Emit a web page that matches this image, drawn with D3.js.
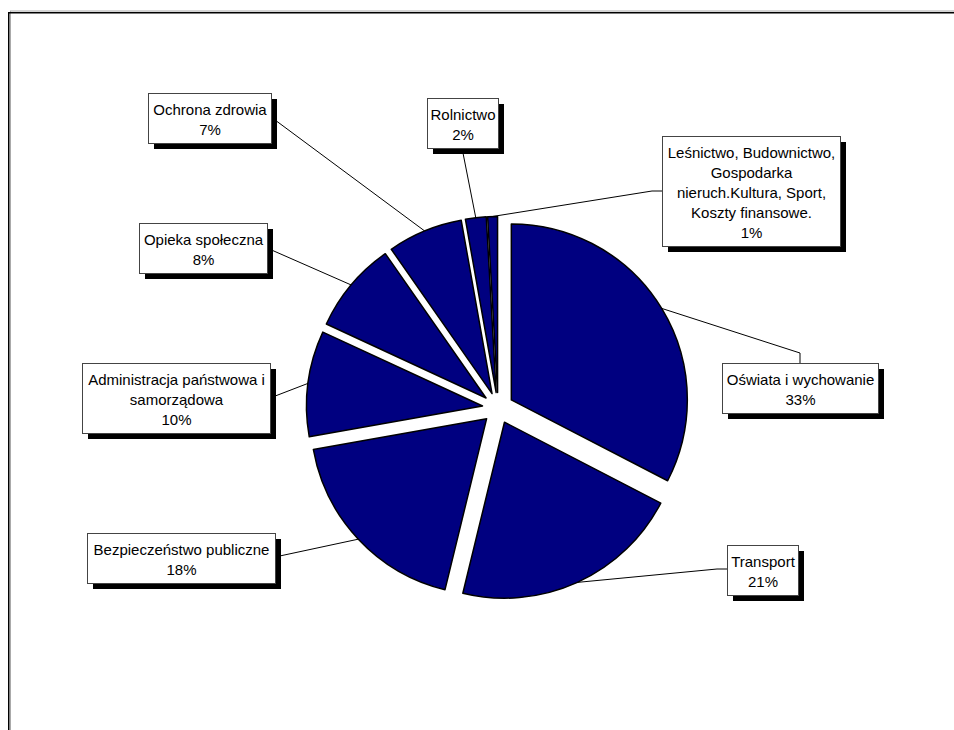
<!DOCTYPE html>
<html>
<head>
<meta charset="utf-8">
<script src="https://cdn.jsdelivr.net/npm/d3@7"></script>
<style>
  body { margin: 0; background: #fff; }
  svg { display: block; }
</style>
</head>
<body>
<script>
// structure of spending, percent of total
let categories = ["Oświata i wychowanie", "Transport", "Bezpieczeństwo publiczne",
    "Administracja państwowa i samorządowa", "Opieka społeczna", "Ochrona zdrowia",
    "Rolnictwo", "Leśnictwo, Budownictwo, Gospodarka nieruch.Kultura, Sport, Koszty finansowe."];
let values = [32.6, 21.2, 18.4, 9.7, 8.4, 6.9, 1.9, 0.9];
// how each label is broken into lines in its box
let labelLines = [
    ["Oświata i wychowanie"],
    ["Transport"],
    ["Bezpieczeństwo publiczne"],
    ["Administracja państwowa i", "samorządowa"],
    ["Opieka społeczna"],
    ["Ochrona zdrowia"],
    ["Rolnictwo"],
    ["Leśnictwo, Budownictwo,", "Gospodarka", "nieruch.Kultura, Sport,", "Koszty finansowe."]
];

let w = 954;
let h = 730;
let cx = 498, cy = 408;
let radius = 176;
let explode = 15.6;

// label boxes: x, y, width, and where the leader line bends / meets the box
let boxes = [
    {x: 722, y: 363, w: 156, bend: [800, 353], end: [800, 363]},
    {x: 727, y: 545, w: 71,  bend: [717, 569], end: [727, 569]},
    {x: 87,  y: 533, w: 188, bend: null, end: [275, 557]},
    {x: 82,  y: 363, w: 188, bend: null, end: [270, 398]},
    {x: 139, y: 223, w: 128, bend: null, end: [267, 248]},
    {x: 148, y: 93,  w: 123, bend: null, end: [271, 117]},
    {x: 427, y: 98,  w: 71,  bend: null, end: [462, 148]},
    {x: 662, y: 136, w: 178, bend: [652, 191], end: [662, 191]}
];

let svg = d3.select("body")
    .append("svg")
    .attr("width", w)
    .attr("height", h);

// chart frame (runs past the right and bottom edge)
svg.append("rect")
    .attr("x", 10.5).attr("y", 11)
    .attr("width", 1000).attr("height", 800)
    .attr("fill", "none")
    .attr("stroke", "#aaa")
    .attr("stroke-width", 1);
svg.append("rect")
    .attr("x", 8.75).attr("y", 12.75)
    .attr("width", 1000).attr("height", 800)
    .attr("fill", "none")
    .attr("stroke", "#000")
    .attr("stroke-width", 1.5);

let total = d3.sum(values);
let pie = d3.pie().sort(null).value(function(d) { return d; });
let arcs = pie(values);

let arc = d3.arc().innerRadius(0).outerRadius(radius);

let offset = function(d) {
    let mid = (d.startAngle + d.endAngle) / 2;
    return [Math.sin(mid) * explode, -Math.cos(mid) * explode];
};

// leader lines first, so boxes sit on top
arcs.forEach(function(d, i) {
    let mid = (d.startAngle + d.endAngle) / 2;
    let o = offset(d);
    let start = [cx + o[0] + Math.sin(mid) * radius, cy + o[1] - Math.cos(mid) * radius];
    let pts = [start];
    if (boxes[i].bend) pts.push(boxes[i].bend);
    pts.push(boxes[i].end);
    svg.append("path")
        .attr("d", d3.line()(pts))
        .attr("fill", "none")
        .attr("stroke", "#000")
        .attr("stroke-width", 1);
});

svg.append("g")
    .selectAll("path")
    .data(arcs)
    .enter()
    .append("path")
    .attr("transform", function(d) {
        let o = offset(d);
        return "translate(" + (cx + o[0]) + "," + (cy + o[1]) + ")";
    })
    .attr("d", arc)
    .attr("fill", "#000080")
    .attr("stroke", "#000")
    .attr("stroke-width", 1.5)
    .attr("stroke-linejoin", "round");

// labels
let lab = svg.selectAll("g.label")
    .data(arcs)
    .enter()
    .append("g")
    .attr("class", "label");

lab.each(function(d, i) {
    let g = d3.select(this);
    let b = boxes[i];
    let lines = labelLines[i].concat([Math.round(d.value / total * 100) + "%"]);
    let bh = 12 + lines.length * 20 - 2;
    if (lines.length === 2) bh = 50;
    g.append("rect")
        .attr("x", b.x + 6).attr("y", b.y + 6)
        .attr("width", b.w).attr("height", bh)
        .attr("fill", "#000");
    g.append("rect")
        .attr("x", b.x + 0.5).attr("y", b.y + 0.5)
        .attr("width", b.w).attr("height", bh)
        .attr("fill", "#fff")
        .attr("stroke", "#444")
        .attr("stroke-width", 1);
    g.selectAll("text")
        .data(lines)
        .enter()
        .append("text")
        .attr("x", b.x + b.w / 2 + 0.5)
        .attr("y", function(t, j) { return b.y + 16 + j * 20 + 5.5; })
        .attr("text-anchor", "middle")
        .attr("font-family", "Liberation Sans, Arial, sans-serif")
        .attr("font-size", "15px")
        .attr("fill", "#000")
        .text(function(t) { return t; });
});
</script>
</body>
</html>
